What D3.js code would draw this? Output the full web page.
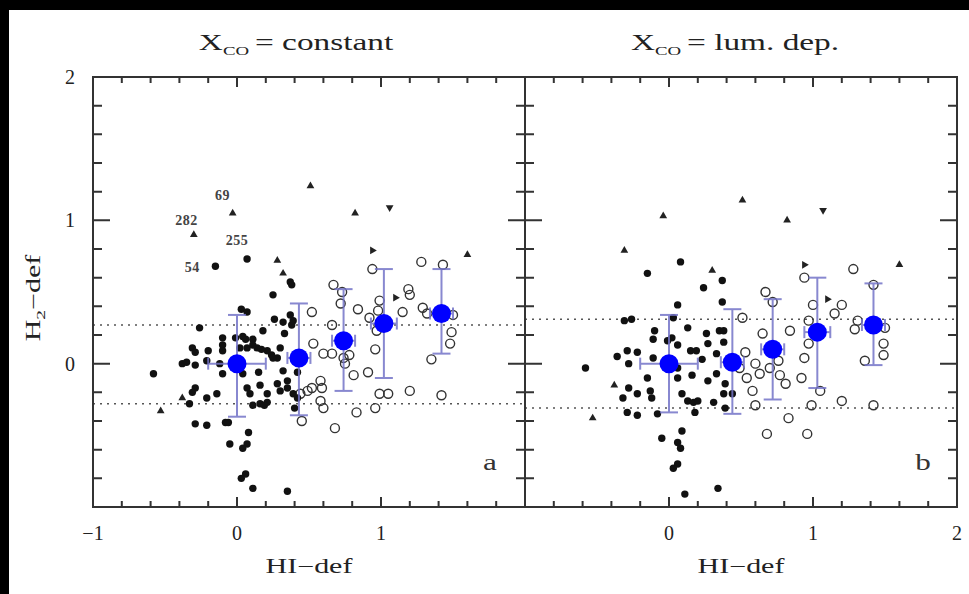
<!DOCTYPE html>
<html>
<head>
<meta charset="utf-8">
<script src="https://cdn.jsdelivr.net/npm/d3@7"></script>
<style>
body{margin:0;background:#fff;}
svg{display:block;font-family:"Liberation Serif",serif;}
</style>
</head>
<body>
<div id="chart"></div>
<script>
// ---- panel a : X_CO constant ----
const filledA = [
  [0.07,0.73],[-0.15,0.68],[0.37,0.57],[0.25,0.48],[0.03,0.38],[0.07,0.36],[-0.26,0.25],[0.26,0.31],
  [0.32,0.29],[0.38,0.27],[0.18,0.23],[-0.10,0.18],[-0.01,0.18],[0.04,0.19],[0.11,0.17],[-0.10,0.13],
  [0.02,0.11],[0.07,0.11],[-0.31,0.11],[0.14,0.11],[-0.20,0.09],[-0.10,0.09],[0.21,0.09],[0.24,0.06],
  [0.28,0.04],[-0.29,0.08],[-0.38,0.00],[-0.29,-0.01],[-0.21,0.02],[-0.12,0.00],[-0.58,-0.07],[-0.10,-0.07],
  [0.04,-0.07],[0.15,-0.06],[0.32,-0.05],[0.42,-0.06],[-0.29,-0.17],[-0.31,-0.20],[-0.21,-0.24],[-0.14,-0.21],
  [0.07,-0.17],[0.09,-0.21],[0.16,-0.15],[0.21,-0.21],[0.28,-0.14],[0.30,-0.19],[0.35,-0.17],[0.39,-0.21],
  [-0.33,-0.28],[0.11,-0.29],[0.16,-0.28],[0.21,-0.27],[-0.29,-0.42],[-0.21,-0.43],[-0.08,-0.41],[-0.06,-0.41],
  [0.08,-0.48],[0.07,-0.56],[-0.05,-0.56],[0.04,-0.59],[0.06,-0.77],[0.03,-0.80],[0.11,-0.87],[0.35,-0.89],
  [0.37,0.34],[0.38,0.55],[0.39,0.30],[0.33,0.21],[0.30,0.11],[0.35,-0.12],[0.42,-0.24],[0.40,-0.31],
  [0.06,0.17],[0.11,0.13],[0.17,0.10],[0.25,0.04],[-0.35,0.01],[0.19,-0.29]
];
const openA = [
  [0.52,0.36],[0.53,0.14],[0.66,0.27],[0.67,0.55],[0.73,0.50],[0.72,0.42],[0.84,0.38],[0.60,0.07],
  [0.66,0.07],[0.74,0.04],[0.78,0.06],[0.75,0.00],[0.81,-0.08],[0.91,-0.06],[0.96,0.10],[0.99,0.44],
  [0.98,0.37],[0.92,0.32],[0.97,0.23],[0.94,0.66],[1.15,0.36],[1.20,0.48],[1.19,0.52],[1.28,0.71],
  [1.29,0.39],[1.32,0.35],[1.43,0.69],[1.49,0.22],[1.48,0.14],[1.35,0.03],[1.50,0.34],[1.42,-0.22],
  [1.20,-0.19],[0.99,-0.21],[1.05,-0.21],[0.96,-0.31],[0.83,-0.34],[0.68,-0.45],[0.60,-0.31],[0.58,-0.26],
  [0.59,-0.17],[0.52,-0.17],[0.49,-0.19],[0.45,-0.40],[0.44,-0.21],[0.58,-0.12]
];
// limits: [x, y, direction]
const limitsA = [
  [-0.03,1.05,"up"],[-0.30,0.90,"up"],[0.28,0.72,"up"],[0.32,0.63,"up"],[-0.38,-0.24,"up"],[-0.53,-0.33,"up"],
  [0.51,1.24,"up"],[0.82,1.05,"up"],[1.06,1.09,"down"],[0.94,0.79,"right"],[1.60,0.76,"up"],[1.10,0.46,"right"]
];
const labelNames = ["69", "282", "255", "54"];
const labelPosA = [[-0.10,1.14],[-0.35,0.97],[0.00,0.83],[-0.31,0.64]];

// binned means
const binXA = [0, 0.43, 0.74, 1.02, 1.42];
const binYA = [0, 0.04, 0.16, 0.28, 0.35];
const binHiA = [0.34, 0.42, 0.52, 0.66, 0.66];
const binLoA = [-0.37, -0.36, -0.19, -0.10, 0.07];
const binXErr = [0.2, 0.08, 0.08, 0.09, 0.08];
const scatterA = [0.27, -0.28];

// ---- panel b : X_CO lum. dep. ----
const filledB = [
  [0.08,0.71],[-0.15,0.63],[0.37,0.58],[0.24,0.53],[0.06,0.41],[0.37,0.43],[-0.26,0.31],[-0.31,0.30],
  [0.03,0.32],[0.13,0.25],[-0.10,0.23],[-0.11,0.17],[0.02,0.18],[0.06,0.13],[0.26,0.21],[0.27,0.14],
  [0.35,0.23],[0.15,0.09],[0.19,0.09],[-0.29,0.09],[-0.36,0.05],[-0.22,0.08],[-0.11,0.04],[-0.28,0.00],
  [-0.58,-0.03],[0.23,0.03],[0.33,0.07],[-0.15,-0.10],[0.06,-0.10],[0.16,-0.08],[0.27,-0.12],[0.33,-0.07],
  [-0.28,-0.17],[-0.22,-0.21],[-0.13,-0.19],[-0.12,-0.24],[0.09,-0.21],[0.13,-0.26],[0.17,-0.27],[0.20,-0.26],
  [0.31,-0.27],[-0.32,-0.24],[-0.29,-0.34],[-0.22,-0.36],[-0.08,-0.35],[0.18,-0.34],[0.09,-0.47],[-0.05,-0.52],
  [0.06,-0.55],[0.08,-0.59],[0.06,-0.70],[0.03,-0.73],[0.11,-0.91],[0.34,-0.87],[0.38,0.23],[0.38,0.15],
  [0.39,-0.14],[0.38,-0.21],[0.39,-0.31],[0.44,-0.21],[-0.01,0.16],[0.06,-0.03]
];
const openB = [
  [0.51,0.32],[0.53,0.08],[0.49,-0.03],[0.54,-0.10],[0.58,-0.19],[0.60,-0.29],[0.60,0.00],[0.63,-0.07],
  [0.65,0.21],[0.67,0.50],[0.72,0.43],[0.70,-0.03],[0.76,0.02],[0.77,-0.08],[0.81,-0.14],[0.84,0.23],
  [0.83,-0.38],[0.68,-0.49],[0.92,-0.10],[0.94,0.04],[0.97,0.14],[0.97,0.30],[1.00,0.41],[0.94,0.60],
  [1.05,-0.19],[0.99,-0.29],[0.96,-0.49],[1.15,0.35],[1.20,0.41],[1.28,0.66],[1.20,-0.26],[1.31,0.30],
  [1.29,0.24],[1.36,0.02],[1.42,0.55],[1.42,-0.29],[1.49,0.14],[1.49,0.06],[1.50,0.25]
];
const limitsB = [
  [-0.04,1.03,"up"],[-0.31,0.79,"up"],[0.30,0.65,"up"],[-0.38,-0.15,"up"],[-0.53,-0.38,"up"],
  [0.51,1.14,"up"],[0.82,1.00,"up"],[1.07,1.07,"down"],[0.94,0.69,"right"],[1.10,0.45,"right"],[1.60,0.69,"up"]
];
const binXB = [0, 0.44, 0.72, 1.03, 1.42];
const binYB = [0, 0.01, 0.10, 0.22, 0.27];
const binHiB = [0.34, 0.38, 0.45, 0.60, 0.56];
const binLoB = [-0.34, -0.35, -0.25, -0.17, -0.01];
const scatterB = [0.31, -0.31];

const W = 969, H = 594;
const pw = 432, ph = 430;
const top0 = 77, left0 = 93;

const svg = d3.select("#chart").append("svg")
    .attr("width", W)
    .attr("height", H);

// white page, black edge on top and left like the scanned figure
svg.append("rect").attr("width", W).attr("height", H).attr("fill", "#fff");
svg.append("rect").attr("width", W).attr("height", 10).attr("fill", "#000");
svg.append("rect").attr("width", 9).attr("height", H).attr("fill", "#000");

const x = d3.scaleLinear().domain([-1, 2]).range([0, pw]);
const y = d3.scaleLinear().domain([-1, 2]).range([ph, 0]);

const tickVals = d3.range(0, 16).map(i => -1 + i * 0.2);
const isMajor = v => Math.abs(v - Math.round(v)) < 1e-6;

function drawPanel(g, p) {
    // tick labels
    g.append("g").selectAll("text")
        .data(p.xLabels)
        .join("text")
            .attr("x", d => x(d))
            .attr("y", ph + 33)
            .attr("text-anchor", "middle")
            .attr("font-size", 20)
            .attr("fill", "#222")
            .text(d => d3.format("d")(d));
    if (p.yLabels) {
        g.append("g").selectAll("text")
            .data(p.yLabels)
            .join("text")
                .attr("x", -23)
                .attr("y", d => y(d) + 7)
                .attr("text-anchor", "middle")
                .attr("font-size", 20)
                .attr("fill", "#222")
                .text(d => d3.format("d")(d));
    }

    // dotted scatter lines
    g.append("g").selectAll("line")
        .data(p.scatter)
        .join("line")
            .attr("x1", 0).attr("x2", pw)
            .attr("y1", d => y(d)).attr("y2", d => y(d))
            .attr("stroke", "#555")
            .attr("stroke-width", 1.5)
            .attr("stroke-dasharray", "2,5");

    // open circles
    g.append("g").selectAll("circle")
        .data(p.open)
        .join("circle")
            .attr("cx", d => x(d[0]))
            .attr("cy", d => y(d[1]))
            .attr("r", 4.5)
            .attr("fill", "none")
            .attr("stroke", "#333")
            .attr("stroke-width", 1.4);

    // filled dots
    g.append("g").selectAll("circle")
        .data(p.filled)
        .join("circle")
            .attr("cx", d => x(d[0]))
            .attr("cy", d => y(d[1]))
            .attr("r", 3.7)
            .attr("fill", "#111");

    // limit triangles
    const rot = {up: 0, down: 180, right: 90};
    g.append("g").selectAll("path")
        .data(p.limits)
        .join("path")
            .attr("d", d3.symbol(d3.symbolTriangle).size(26))
            .attr("transform", d => `translate(${x(d[0])},${y(d[1])}) rotate(${rot[d[2]]})`)
            .attr("fill", "#222");

    // galaxy labels
    if (p.labels) {
        g.append("g").selectAll("text")
            .data(p.labels)
            .join("text")
                .attr("x", d => x(d[1][0]))
                .attr("y", d => y(d[1][1]))
                .attr("text-anchor", "middle")
                .attr("font-size", 14)
                .attr("font-weight", "bold")
                .attr("letter-spacing", 0.5)
                .attr("fill", "#444")
                .text(d => d[0]);
    }

    // binned means with error bars
    const bins = p.binX.map((v, i) => ({x: v, y: p.binY[i], hi: p.binHi[i], lo: p.binLo[i], xe: binXErr[i]}));
    const eb = g.append("g").attr("stroke", "#7474c8").attr("stroke-width", 2).attr("opacity", 0.85);
    const capW = 9, capH = 6;
    bins.forEach(b => {
        eb.append("line").attr("x1", x(b.x)).attr("x2", x(b.x)).attr("y1", y(b.hi)).attr("y2", y(b.lo));
        eb.append("line").attr("x1", x(b.x) - capW).attr("x2", x(b.x) + capW).attr("y1", y(b.hi)).attr("y2", y(b.hi));
        eb.append("line").attr("x1", x(b.x) - capW).attr("x2", x(b.x) + capW).attr("y1", y(b.lo)).attr("y2", y(b.lo));
        eb.append("line").attr("x1", x(b.x - b.xe)).attr("x2", x(b.x + b.xe)).attr("y1", y(b.y)).attr("y2", y(b.y));
        eb.append("line").attr("x1", x(b.x - b.xe)).attr("x2", x(b.x - b.xe)).attr("y1", y(b.y) - capH).attr("y2", y(b.y) + capH);
        eb.append("line").attr("x1", x(b.x + b.xe)).attr("x2", x(b.x + b.xe)).attr("y1", y(b.y) - capH).attr("y2", y(b.y) + capH);
    });
    g.append("g").selectAll("circle")
        .data(bins)
        .join("circle")
            .attr("cx", d => x(d.x))
            .attr("cy", d => y(d.y))
            .attr("r", 9.5)
            .attr("fill", "#0000ff");

    // frame and inward ticks as one path
    let frame = `M0,0H${pw}V${ph}H0Z`;
    tickVals.forEach(d => {
        const lx = isMajor(d) ? 10 : 6, ly = isMajor(d) ? 17 : 9;
        frame += `M${x(d)},${ph}V${ph - lx}`;
        frame += `M${x(d)},0V${lx}`;
        frame += `M0,${y(d)}H${ly}`;
        frame += `M${pw},${y(d)}H${pw - ly}`;
    });
    g.append("path")
        .attr("d", frame)
        .attr("fill", "none")
        .attr("stroke", "#333")
        .attr("stroke-width", 2);

    // panel letter
    g.append("text")
        .attr("transform", `translate(${p.letterX},393) scale(1.3,1)`)
        .attr("text-anchor", "middle")
        .attr("font-size", 24)
        .attr("fill", "#333")
        .text(p.letter);

    // x title (wide glyphs like the plotting font)
    g.append("text")
        .attr("transform", `translate(${pw / 2},496) scale(1.5,1)`)
        .attr("text-anchor", "middle")
        .attr("font-size", 20)
        .attr("fill", "#222")
        .text("HI\u2212def");

    // panel title
    const t = g.append("text")
        .attr("transform", `translate(${p.titleX},-27) scale(1.45,1)`)
        .attr("text-anchor", "middle")
        .attr("font-size", 23)
        .attr("fill", "#222");
    t.append("tspan").text("X");
    t.append("tspan").attr("font-size", 13).attr("dy", 5).text("CO");
    t.append("tspan").attr("dy", -5).attr("dx", 4).text("= ");
    t.append("tspan").text(p.title);
}

const ga = svg.append("g").attr("transform", `translate(${left0},${top0})`);
drawPanel(ga, {
    filled: filledA, open: openA, limits: limitsA,
    labels: labelNames.map((n, i) => [n, labelPosA[i]]),
    binX: binXA, binY: binYA, binHi: binHiA, binLo: binLoA,
    scatter: scatterA, xLabels: [-1, 0, 1], yLabels: [0, 1, 2],
    letter: "a", letterX: 397, title: "constant", titleX: 203
});

const gb = svg.append("g").attr("transform", `translate(${left0 + pw},${top0})`);
drawPanel(gb, {
    filled: filledB, open: openB, limits: limitsB, labels: null,
    binX: binXB, binY: binYB, binHi: binHiB, binLo: binLoB,
    scatter: scatterB, xLabels: [0, 1, 2], yLabels: null,
    letter: "b", letterX: 398, title: "lum. dep.", titleX: 210
});

// y title
const yt = svg.append("text")
    .attr("transform", "translate(40,298) rotate(-90) scale(1.5,1)")
    .attr("text-anchor", "middle")
    .attr("font-size", 20)
    .attr("fill", "#222");
yt.append("tspan").text("H");
yt.append("tspan").attr("font-size", 13).attr("dy", 5).text("2");
yt.append("tspan").attr("dy", -5).text("\u2212def");
</script>
</body>
</html>
